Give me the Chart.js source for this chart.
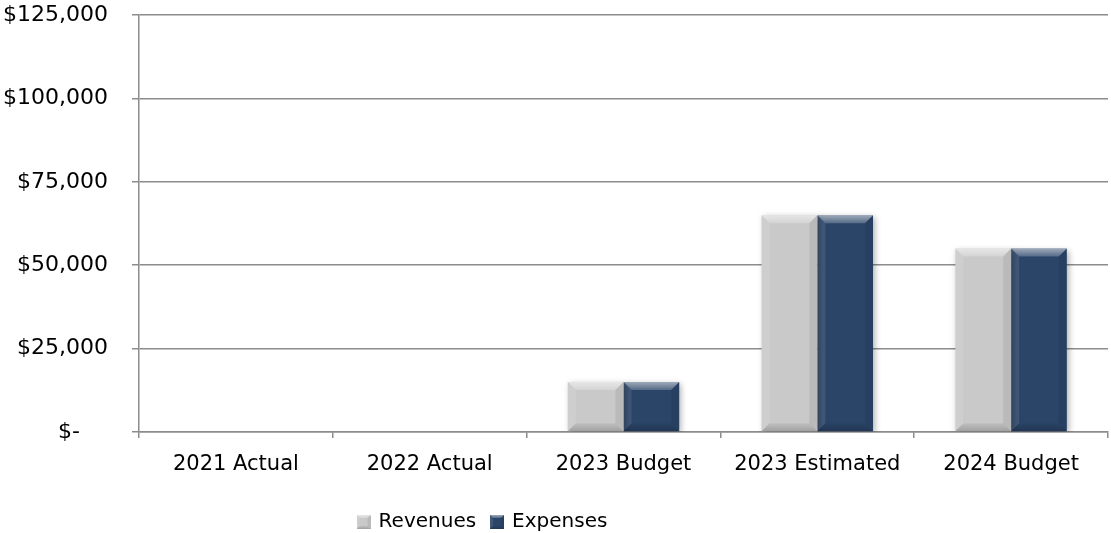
<!DOCTYPE html>
<html>
<head>
<meta charset="utf-8">
<script src="https://cdn.jsdelivr.net/npm/chart.js@4.4.0/dist/chart.umd.min.js"></script>
<style>
  html, body { margin: 0; padding: 0; background: #fff; }
  #wrap { width: 1111px; height: 533px; }
</style>
</head>
<body>
<div id="wrap"><canvas id="budget"></canvas></div>
<script>
const categories = ['2021 Actual', '2022 Actual', '2023 Budget', '2023 Estimated', '2024 Budget'];
const revenues = [0, 0, 15000, 65000, 55000];
const expenses = [0, 0, 15000, 65000, 55000];
const yTicks = [0, 25000, 50000, 75000, 100000, 125000];

const revColor = '#c9c9c9';
const expColor = '#2b4569';

// small bevelled square for the legend
function legendBox(color) {
  const c = document.createElement('canvas');
  c.width = 14; c.height = 14;
  const g = c.getContext('2d');
  g.fillStyle = color;
  g.fillRect(0, 0, 14, 14);
  bevel(g, 0, 0, 14, 14, 3);
  return c;
}

function bevel(g, l, t, r, b, s) {
  const topGrad = g.createLinearGradient(0, t, 0, t + s);
  topGrad.addColorStop(0, 'rgba(255,255,255,0.55)');
  topGrad.addColorStop(1, 'rgba(255,255,255,0.2)');
  const botGrad = g.createLinearGradient(0, b - s, 0, b);
  botGrad.addColorStop(0, 'rgba(0,0,0,0.05)');
  botGrad.addColorStop(1, 'rgba(0,0,0,0.2)');
  const parts = [
    [[l, t], [r, t], [r - s, t + s], [l + s, t + s], topGrad],
    [[l, t], [l + s, t + s], [l + s, b - s], [l, b], 'rgba(255,255,255,0.1)'],
    [[r, t], [r, b], [r - s, b - s], [r - s, t + s], 'rgba(0,0,0,0.07)'],
    [[l, b], [l + s, b - s], [r - s, b - s], [r, b], botGrad]
  ];
  parts.forEach(p => {
    g.beginPath();
    g.moveTo(p[0][0], p[0][1]);
    for (let i = 1; i < 4; i++) g.lineTo(p[i][0], p[i][1]);
    g.closePath();
    g.fillStyle = p[4];
    g.fill();
  });
}

const bevelPlugin = {
  id: 'bevel',
  afterLayout(chart) {
    // legend sits left of centre in the original
    const lg = chart.legend;
    lg.left -= 71; lg.right -= 71;
    lg.top += 9; lg.bottom += 9;
  },
  beforeDatasetDraw(chart) {
    const ctx = chart.ctx;
    ctx.save();
    ctx.shadowColor = 'rgba(0,0,0,0.3)';
    ctx.shadowBlur = 6;
    ctx.shadowOffsetX = 2;
    ctx.shadowOffsetY = 2;
  },
  afterDatasetDraw(chart, args) {
    const ctx = chart.ctx;
    ctx.restore();
    args.meta.data.forEach(bar => {
      const h = bar.base - bar.y;
      if (h < 1) return;
      const l = bar.x - bar.width / 2, r = bar.x + bar.width / 2;
      bevel(ctx, l, bar.y, r, bar.base, Math.min(8, h / 2));
    });
  }
};

const ctx = document.getElementById('budget');
const myChart = new Chart(ctx, {
  type: 'bar',
  data: {
    labels: categories,
    datasets: [{
      label: 'Revenues',
      data: revenues,
      backgroundColor: revColor,
      pointStyle: legendBox(revColor)
    }, {
      label: 'Expenses',
      data: expenses,
      backgroundColor: expColor,
      pointStyle: legendBox(expColor)
    }]
  },
  options: {
    responsive: true,
    maintainAspectRatio: false,
    animation: false,
    barPercentage: 1,
    categoryPercentage: 0.575,
    layout: { padding: { top: 0, right: 3, left: 0, bottom: 0 } },
    plugins: {
      tooltip: { enabled: false },
      legend: {
        position: 'bottom',
        labels: {
          usePointStyle: true,
          color: '#000',
          font: { family: 'DejaVu Sans', size: 20 },
          boxWidth: 10,
          boxHeight: 14,
          padding: 16
        }
      }
    },
    scales: {
      x: {
        afterFit: scale => {
          const lh = scale.chart.legend ? scale.chart.legend.height : 40;
          scale.height = 533 - 432 - lh;
        },
        grid: { display: true, drawOnChartArea: false, offset: true, tickLength: 6, color: '#8c8c8c', lineWidth: 1.5 },
        border: { color: '#8c8c8c', width: 1.5 },
        ticks: { color: '#000', font: { family: 'DejaVu Sans', size: 21 }, padding: 14 }
      },
      y: {
        min: 0,
        max: 125000,
        afterBuildTicks: scale => { scale.ticks = yTicks.map(v => ({ value: v })); },
        afterFit: scale => { scale.width = 139; scale.paddingTop = 15; },
        grid: { color: '#8c8c8c', lineWidth: 1.5, tickLength: 7 },
        border: { color: '#8c8c8c', width: 1.5 },
        ticks: {
          color: '#000',
          font: { family: 'DejaVu Sans', size: 22 },
          padding: 24,
          callback: v => v === 0 ? '$-    ' : '$' + v.toLocaleString('en-US')
        }
      }
    }
  },
  plugins: [bevelPlugin]
});
</script>
</body>
</html>
